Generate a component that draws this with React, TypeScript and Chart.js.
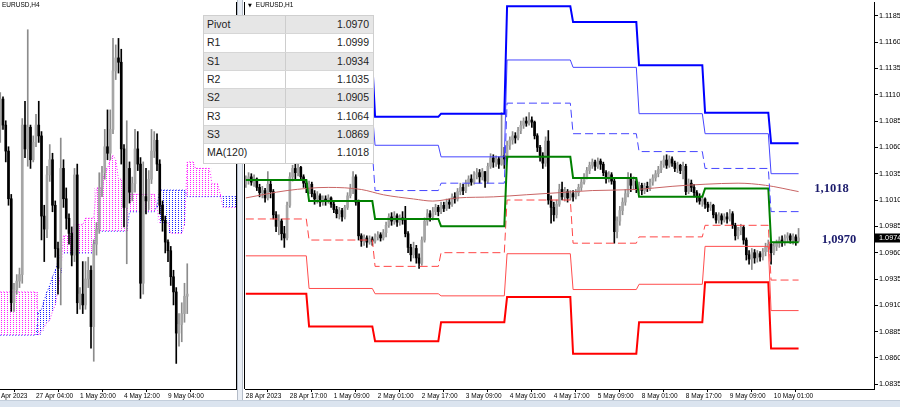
import React, { useEffect, useRef } from "react";
import { Chart, registerables } from "chart.js";
Chart.register(...registerables);

const SANS = '"Liberation Sans", Arial, sans-serif';
const SERIF = '"Liberation Serif", "Times New Roman", serif';

// ---------- H1 panel (right) ----------
const h1TickLabels = ["28 Apr 2023", "28 Apr 17:00", "1 May 09:00", "2 May 01:00", "2 May 17:00", "3 May 09:00", "4 May 01:00", "4 May 17:00", "5 May 09:00", "8 May 01:00", "8 May 17:00", "9 May 09:00", "10 May 01:00"];
const h1TickBars = [0, 16, 32, 48, 64, 80, 96, 112, 128, 144, 160, 176, 192];
const priceTicks = [1.0835, 1.086, 1.0885, 1.091, 1.0935, 1.096, 1.0985, 1.101, 1.1035, 1.106, 1.1085, 1.111, 1.1135, 1.116, 1.1185];

const h1FirstOpen = 1.1025;
const h1Close = [
  1.1028, 1.1032, 1.1027, 1.103, 1.1022, 1.1017, 1.1019, 1.1012, 1.1025, 1.1018,
  1.0996, 1.0985, 1.099, 1.0978, 1.0974, 1.1005, 1.1032, 1.104, 1.1036, 1.1041,
  1.1032, 1.1026, 1.1021, 1.1025, 1.1016, 1.1011, 1.1014, 1.1008, 1.1011, 1.1009,
  1.1012, 1.1006, 1.1001, 1.0997, 1.1, 1.0994, 1.1003, 1.1014, 1.1021, 1.1032,
  1.1008, 1.0976, 1.0971, 1.0974, 1.097, 1.0973, 1.0971, 1.0975, 1.0977, 1.0974,
  1.0979, 1.0986, 1.0994, 1.099, 1.0995, 1.0989, 1.0993, 1.0991, 1.0978, 1.0965,
  1.0958, 1.0964, 1.0955, 1.095, 1.0972, 1.099, 1.0997, 1.0994, 1.0999, 1.1003,
  1.0999, 1.1005, 1.1002, 1.1008, 1.1006, 1.1013, 1.1011, 1.1018, 1.1022, 1.1019,
  1.1026, 1.103, 1.1027, 1.1034, 1.1036, 1.1032, 1.1037, 1.1028, 1.1042, 1.105,
  1.1046, 1.1049, 1.1044, 1.1052, 1.1049, 1.1062, 1.1067, 1.1071, 1.1069, 1.1076,
  1.1081, 1.1085, 1.1083, 1.1086, 1.1084, 1.1071, 1.106, 1.1052, 1.1045, 1.1066,
  1.101, 1.1003, 1.0996, 1.1006, 1.102, 1.1013, 1.1018, 1.1012, 1.1016, 1.1013,
  1.1017, 1.1022, 1.1027, 1.1032, 1.1038, 1.1043, 1.1046, 1.1042, 1.1047, 1.1044,
  1.1036, 1.103, 1.1034, 1.1028, 1.098, 1.099, 1.1, 1.1008, 1.1016, 1.103,
  1.1024, 1.1028, 1.102, 1.1024, 1.1019, 1.1023, 1.1021, 1.1027, 1.1031, 1.1035,
  1.1039, 1.1044, 1.1048, 1.1043, 1.1049, 1.1045, 1.104, 1.1043, 1.1038, 1.1042,
  1.1018, 1.1026, 1.1022, 1.1017, 1.1013, 1.1009, 1.1011, 1.1006, 1.1003, 1.1005,
  1.0996, 1.0991, 1.0995, 1.0991, 1.0994, 1.0992, 1.0997, 1.0986, 1.0976, 1.0981,
  1.0984, 1.0972, 1.0958, 1.0954, 1.096, 1.0955, 1.0959, 1.0956, 1.0961, 1.0965,
  1.0968, 1.096, 1.0966, 1.0969, 1.0972, 1.097, 1.0974, 1.0976, 1.0972, 1.0975,
  1.0971, 1.0974,
];
const h1High = [
  1.1033, 1.1036, 1.1035, 1.1034, 1.1031, 1.1025, 1.1023, 1.1021, 1.1037, 1.1028,
  1.102, 1.0999, 1.0996, 1.0992, 1.0985, 1.1008, 1.1036, 1.1043, 1.1044, 1.1045,
  1.1042, 1.1034, 1.1029, 1.1028, 1.1027, 1.1019, 1.1018, 1.1016, 1.1014, 1.1014,
  1.1015, 1.1013, 1.1008, 1.1004, 1.1003, 1.1002, 1.1005, 1.1017, 1.1025, 1.1037,
  1.1034, 1.101, 1.0978, 1.0977, 1.0976, 1.0976, 1.0975, 1.0978, 1.098, 1.0979,
  1.0982, 1.0989, 1.0997, 1.0998, 1.0999, 1.0997, 1.0996, 1.0999, 1.1004, 1.098,
  1.0968, 1.097, 1.0967, 1.0959, 1.0975, 1.0993, 1.1001, 1.1, 1.1003, 1.1006,
  1.1005, 1.1008, 1.1008, 1.1011, 1.1011, 1.1016, 1.1017, 1.1021, 1.1026, 1.1025,
  1.1029, 1.1033, 1.1034, 1.1037, 1.104, 1.1039, 1.104, 1.1037, 1.1045, 1.1054,
  1.1053, 1.1052, 1.1051, 1.1093, 1.106, 1.1066, 1.107, 1.1075, 1.1074, 1.1079,
  1.1085, 1.1088, 1.1089, 1.1093, 1.1089, 1.1085, 1.1073, 1.1062, 1.1055, 1.107,
  1.1076, 1.1014, 1.1008, 1.101, 1.1025, 1.1027, 1.1022, 1.102, 1.1019, 1.1019,
  1.102, 1.1025, 1.103, 1.1035, 1.1041, 1.1046, 1.1049, 1.1048, 1.105, 1.1049,
  1.1046, 1.1038, 1.1037, 1.1036, 1.103, 1.0994, 1.1004, 1.1012, 1.102, 1.1036,
  1.1035, 1.1032, 1.103, 1.1027, 1.1026, 1.1026, 1.1027, 1.103, 1.1034, 1.1038,
  1.1042, 1.1047, 1.1052, 1.1053, 1.1052, 1.1051, 1.1047, 1.1046, 1.1044, 1.1046,
  1.1044, 1.103, 1.1029, 1.1025, 1.1019, 1.1016, 1.1014, 1.1012, 1.1008, 1.1008,
  1.1006, 1.0998, 1.0998, 1.0997, 1.0997, 1.0998, 1.1001, 1.0999, 1.0988, 1.0984,
  1.0987, 1.0986, 1.0974, 1.0962, 1.0964, 1.0963, 1.0962, 1.0961, 1.0964, 1.0969,
  1.0972, 1.097, 1.0969, 1.0972, 1.0975, 1.0976, 1.0977, 1.0979, 1.0978, 1.0978,
  1.0977, 1.0983,
];
const h1Low = [
  1.1022, 1.1025, 1.1024, 1.1023, 1.1019, 1.1013, 1.1012, 1.1008, 1.101, 1.1012,
  1.0992, 1.098, 1.0977, 1.0972, 1.0965, 1.0972, 1.1003, 1.1028, 1.103, 1.1033,
  1.1029, 1.1022, 1.1017, 1.1016, 1.1013, 1.1006, 1.1007, 1.1004, 1.1005, 1.1005,
  1.1007, 1.1003, 1.0998, 1.0993, 1.0992, 1.099, 1.0992, 1.1001, 1.1012, 1.1016,
  1.1005, 1.0972, 1.0966, 1.0967, 1.0965, 1.0968, 1.0967, 1.0969, 1.0972, 1.0971,
  1.0972, 1.0975, 1.0984, 1.0986, 1.0987, 1.0985, 1.0986, 1.0987, 1.0975, 1.096,
  1.0952, 1.0955, 1.095, 1.0945, 1.0948, 1.097, 1.0986, 1.099, 1.0991, 1.0996,
  1.0995, 1.0997, 1.0999, 1.1, 1.1002, 1.1004, 1.1007, 1.1009, 1.1015, 1.1015,
  1.1017, 1.1023, 1.1024, 1.1025, 1.103, 1.1026, 1.1029, 1.1022, 1.1026, 1.104,
  1.1041, 1.1042, 1.104, 1.1043, 1.104, 1.1047, 1.1058, 1.1063, 1.1064, 1.1067,
  1.1073, 1.1078, 1.108, 1.1081, 1.1079, 1.1068, 1.1056, 1.1047, 1.104, 1.1042,
  1.1006, 1.0988, 1.099, 1.0993, 1.1004, 1.101, 1.1009, 1.1008, 1.101, 1.1009,
  1.1011, 1.1014, 1.1019, 1.1025, 1.103, 1.1035, 1.104, 1.1038, 1.104, 1.1039,
  1.1033, 1.1026, 1.1027, 1.1025, 1.0969, 1.0974, 1.0986, 1.0996, 1.1005, 1.1013,
  1.1018, 1.102, 1.1017, 1.1016, 1.1015, 1.1016, 1.1018, 1.1019, 1.1024, 1.1028,
  1.1032, 1.1036, 1.1041, 1.104, 1.1041, 1.1042, 1.1037, 1.1036, 1.1035, 1.103,
  1.1015, 1.1016, 1.1018, 1.1013, 1.1008, 1.1006, 1.1004, 1.1002, 1.0999, 1.1,
  1.0993, 1.0988, 1.0988, 1.0987, 1.0989, 1.0988, 1.099, 1.0983, 1.0972, 1.0973,
  1.0977, 1.0968, 1.0953, 1.0949, 1.0944, 1.095, 1.0951, 1.0952, 1.0953, 1.0957,
  1.0961, 1.0949, 1.0958, 1.0962, 1.0965, 1.0966, 1.0967, 1.097, 1.0969, 1.0968,
  1.0967, 1.097,
];

// daily pivot levels (one value per trading day)
const dayStart = [0, 23, 47, 71, 95, 119, 143, 167, 191];
const dayEnd = [22, 46, 70, 94, 118, 142, 166, 190, 201];
const levelR3 = [1.1136, 1.114, 1.1089, 1.1092, 1.1194, 1.1179, 1.1138, 1.1093, 1.1064];
const levelR2 = [1.1101, 1.1093, 1.1062, 1.1051, 1.1143, 1.1136, 1.1092, 1.1073, 1.1035];
const levelR1 = [1.1064, 1.1056, 1.1019, 1.1026, 1.1102, 1.1073, 1.1056, 1.104, 1.0999];
const levelP = [1.1029, 1.1009, 1.0992, 1.0985, 1.1051, 1.1031, 1.1013, 1.1021, 1.097];
const levelS1 = [1.0992, 1.0972, 1.0947, 1.096, 1.101, 1.0969, 1.0975, 1.0986, 1.0934];
const levelS2 = [1.0957, 1.0926, 1.0921, 1.0919, 1.0959, 1.0925, 1.093, 1.0966, 1.0905];
const levelS3 = [1.0921, 1.089, 1.0876, 1.0894, 1.0918, 1.0864, 1.0894, 1.0932, 1.0869];

const maBars = [0, 15, 30, 42, 50, 61, 68, 77, 90, 102, 114, 126, 142, 155, 167, 179, 189, 201];
const maValues = [1.1012, 1.1019, 1.1022, 1.102, 1.1015, 1.1011, 1.1009, 1.1012, 1.1013, 1.1015, 1.1017, 1.1019, 1.102, 1.1023, 1.1025, 1.1026, 1.1024, 1.1018];

const tableNames = ["Pivot", "R1", "S1", "R2", "S2", "R3", "S3", "MA(120)"];
const tableValues = ["1.0970", "1.0999", "1.0934", "1.1035", "1.0905", "1.1064", "1.0869", "1.1018"];

// ---------- H4 panel (left) ----------
const h4TickLabels = ["24 Apr 2023", "27 Apr 04:00", "1 May 20:00", "4 May 12:00", "9 May 04:00"];
const h4TickBars = [-16, 0, 16, 32, 48];
const h4FirstBar = -13;
const h4FirstOpen = 1.1051;
const h4Close = [
  1.1065, 1.1053, 1.1041, 1.1019, 1.0971, 1.0977, 1.0981, 1.0984, 1.1053, 1.1042,
  1.1052, 1.1037, 1.1045, 1.1053, 1.1048, 1.1011, 1.1005, 1.103, 1.1037, 1.1016,
  1.0996, 1.0987, 1.1033, 1.1019, 1.101, 1.1003, 1.0993, 1.103, 1.0971, 1.0975,
  1.097, 1.0982, 1.0986, 1.096, 1.0998, 1.1005, 1.1024, 1.1031, 1.1043, 1.104,
  1.1051, 1.1078, 1.1084, 1.1082, 1.1042, 1.1015, 1.1033, 1.1022, 1.1026, 1.1042,
  1.1035, 1.098, 1.102, 1.1018, 1.1028, 1.1041, 1.1046, 1.1035, 1.1016, 1.1009,
  1.0999, 1.0995, 1.0983, 1.0976, 1.0957, 1.0961, 1.0966, 1.0974, 1.0975,
];
const h4High = [
  1.1068, 1.1066, 1.1055, 1.1043, 1.1021, 1.098, 1.0984, 1.0987, 1.1056, 1.1064,
  1.1097, 1.1053, 1.1048, 1.1058, 1.1064, 1.105, 1.1016, 1.1034, 1.1044, 1.104,
  1.1018, 1.0999, 1.1047, 1.1037, 1.1024, 1.1012, 1.1006, 1.1033, 1.1035, 1.0978,
  1.099, 1.099, 1.0992, 1.0988, 1.1, 1.1008, 1.1031, 1.1034, 1.1051, 1.106,
  1.106, 1.1093, 1.109, 1.1093, 1.1088, 1.1044, 1.1055, 1.1036, 1.1029, 1.1051,
  1.105, 1.1038, 1.1036, 1.1033, 1.1032, 1.1051, 1.105, 1.1049, 1.1037, 1.1018,
  1.1011, 1.1, 1.0997, 1.0986, 1.0978, 1.0966, 1.0971, 1.098, 1.0989,
];
const h4Low = [
  1.1045, 1.1051, 1.1036, 1.1016, 1.0967, 1.0967, 1.0975, 1.0978, 1.098, 1.1038,
  1.1034, 1.1033, 1.1036, 1.1043, 1.1045, 1.1, 1.099, 1.1001, 1.1027, 1.1013,
  1.0992, 1.0975, 1.097, 1.1015, 1.1005, 1.0998, 1.0988, 1.099, 1.0966, 1.0968,
  1.0966, 1.0968, 1.0978, 1.095, 1.0944, 1.0993, 1.1003, 1.102, 1.1028, 1.1037,
  1.1037, 1.1049, 1.1074, 1.1077, 1.1035, 1.1006, 1.0989, 1.1017, 1.1018, 1.1022,
  1.1032, 1.0973, 1.0975, 1.1012, 1.1014, 1.1026, 1.1038, 1.1032, 1.1012, 1.1004,
  1.0994, 1.099, 1.0979, 1.097, 1.0943, 1.0951, 1.0953, 1.0962, 1.0966,
];
// Ichimoku Senkou spans, one value per H4 bar from bar -13 (shifted 26 bars ahead)
const senkouA = [
  1.0976, 1.0976, 1.0976, 1.0976, 1.0976, 1.0976, 1.0976, 1.0976, 1.0976, 1.0976, 1.0976, 1.0976, 1.0976, 1.0976,
  1.0956, 1.0958, 1.096, 1.0962, 1.0963, 1.0967, 1.097, 1.0977, 1.0985,
  1.1002, 1.1002, 1.1002, 1.1002, 1.1007, 1.1007, 1.1007, 1.1007, 1.101, 1.101, 1.101, 1.101,
  1.1024, 1.1024, 1.1024, 1.103, 1.1033, 1.1037, 1.1039, 1.1037, 1.1028, 1.1028, 1.1028, 1.1028,
  1.1021, 1.1021, 1.1021, 1.1021, 1.1021, 1.1021, 1.1021, 1.1021, 1.1021, 1.1021,
  1.1015, 1.1008, 1.1008, 1.1008, 1.1008, 1.1003, 1.1003, 1.1003, 1.1003, 1.1003, 1.1007,
  1.1036, 1.1036, 1.1036, 1.1033, 1.1033, 1.1033, 1.1033, 1.1033, 1.1033, 1.1026, 1.1026, 1.1026, 1.1021,
  1.1015, 1.1015, 1.1015, 1.1015, 1.1015, 1.1015,
];
const senkouB = [
  1.0956, 1.0956, 1.0956, 1.0956, 1.0956, 1.0956, 1.0956, 1.0956, 1.0956, 1.0956, 1.0956, 1.0956, 1.0956, 1.0956,
  1.0967, 1.0968, 1.0972, 1.0976, 1.0979, 1.0983, 1.0986, 1.099, 1.0994,
  1.0994, 1.0994, 1.0994, 1.0994, 1.0994, 1.0994, 1.0994, 1.0994, 1.0994, 1.0994, 1.0994, 1.0994,
  1.1004, 1.1004, 1.1004, 1.1004, 1.1004, 1.1004, 1.1004, 1.1004, 1.1004, 1.1004, 1.1004, 1.1004,
  1.1013, 1.1013, 1.1013, 1.1013, 1.1013, 1.1013, 1.1013, 1.1013, 1.1013, 1.1013,
  1.1016, 1.1023, 1.1023, 1.1023, 1.1023, 1.1023, 1.1023, 1.1023, 1.1023, 1.1023, 1.1023,
  1.102, 1.102, 1.102, 1.102, 1.102, 1.102, 1.102, 1.102, 1.102, 1.102, 1.102, 1.102, 1.102,
  1.102, 1.102, 1.102, 1.102, 1.102, 1.102,
];

const BULL_BODY = "#a6a6a6";
const BULL_WICK = "#8c8c8c";
const BEAR = "#000000";

function candleSets(startBar: number, firstOpen: number, closes: number[], highs: number[], lows: number[]) {
  const wick: any[] = [], body: any[] = [], wc: string[] = [], bc: string[] = [];
  let open = firstOpen;
  closes.forEach((c, k) => {
    const x = startBar + k;
    const up = c >= open;
    wick.push({ x, y: [lows[k], highs[k]] });
    body.push({ x, y: [open, c] });
    wc.push(up ? BULL_WICK : BEAR);
    bc.push(up ? BULL_BODY : BEAR);
    open = c;
  });
  return [
    { type: "bar", data: wick, backgroundColor: wc, barThickness: 1, grouped: false, order: 3 },
    { type: "bar", data: body, backgroundColor: bc, barThickness: 2, minBarLength: 1, grouped: false, order: 2 },
  ];
}

function stepLine(levels: number[]) {
  const pts: any[] = [];
  levels.forEach((v, d) => {
    pts.push({ x: dayStart[d], y: v });
    pts.push({ x: dayEnd[d], y: v });
  });
  return pts;
}

function lineSet(data: any[], color: string, width: number, dash: number[] = [], order = 1, extra: any = {}) {
  return { type: "line", data, borderColor: color, borderWidth: width, borderDash: dash, pointRadius: 0, fill: false, tension: 0, order, ...extra };
}

function xScale(min: number, max: number, bars: number[], labels: string[]) {
  return {
    type: "linear", min, max, offset: false,
    grid: { display: true, drawOnChartArea: false, drawTicks: true, tickLength: 3, color: "#000" },
    border: { display: true, color: "#000" },
    ticks: {
      autoSkip: false, maxRotation: 0, minRotation: 0, align: "start", padding: 0, color: "#000",
      font: { family: SANS, size: 6.5 },
      callback: (_v: any, i: number) => labels[i],
    },
    afterBuildTicks: (s: any) => { s.ticks = bars.map((v) => ({ value: v })); },
    afterFit: (s: any) => { s.height = 11; s.paddingLeft = 0; s.paddingRight = 0; },
  };
}

function dotPattern(color: string) {
  const c = document.createElement("canvas");
  c.width = 3; c.height = 2;
  const g = c.getContext("2d")!;
  g.fillStyle = color;
  g.fillRect(0, 0, 1, 1);
  return g.createPattern(c, "repeat");
}

function buildRight() {
  const last = h1Close[h1Close.length - 1];
  return {
    type: "bar",
    data: {
      datasets: [
        lineSet(stepLine(levelR3), "#0000ff", 2),
        lineSet(stepLine(levelR2), "#4646ff", 1),
        lineSet(stepLine(levelR1), "#4646ff", 1, [8, 4]),
        lineSet(stepLine(levelP), "#008000", 2),
        lineSet(stepLine(levelS1), "#ff4646", 1, [8, 4]),
        lineSet(stepLine(levelS2), "#ff4d4d", 1),
        lineSet(stepLine(levelS3), "#ff0000", 2),
        lineSet(maBars.map((b, k) => ({ x: b, y: maValues[k] })), "#c86464", 1, [], 1, { cubicInterpolationMode: "monotone" }),
        ...candleSets(0, h1FirstOpen, h1Close, h1High, h1Low),
      ],
    },
    options: {
      animation: false, responsive: false, maintainAspectRatio: false, events: [],
      layout: { padding: { left: 2, top: 2, right: 0, bottom: 0 } },
      plugins: { legend: { display: false }, tooltip: { enabled: false } },
      scales: {
        x: xScale(-0.3, 228.43, h1TickBars, h1TickLabels),
        y: {
          type: "linear", position: "right", min: 1.083054, max: 1.119806,
          grid: { display: true, drawOnChartArea: false, drawTicks: true, tickLength: 4, color: "#000" },
          border: { display: true, color: "#000" },
          ticks: { autoSkip: false, padding: 1, color: "#000", font: { family: SANS, size: 7.3 }, callback: (v: any) => Number(v).toFixed(4) },
          afterBuildTicks: (s: any) => { s.ticks = priceTicks.map((v) => ({ value: v })); },
          afterFit: (s: any) => { s.width = 26; s.paddingTop = 0; s.paddingBottom = 0; },
        },
      },
    },
    plugins: [
      {
        id: "rightDecor",
        afterDraw(chart: any) {
          const { ctx, chartArea: a } = chart;
          const ys = chart.scales.y;
          ctx.save();
          ctx.strokeStyle = "#000"; ctx.lineWidth = 1;
          ctx.beginPath(); ctx.moveTo(a.left - 0.5, a.top); ctx.lineTo(a.left - 0.5, a.bottom); ctx.stroke();
          const py = ys.getPixelForValue(last);
          ctx.fillStyle = "#000";
          ctx.fillRect(a.right + 1, Math.round(py) - 4.5, chart.width - a.right - 1, 9);
          ctx.fillStyle = "#fff"; ctx.font = `7.3px ${SANS}`; ctx.textBaseline = "middle"; ctx.textAlign = "left";
          ctx.fillText(last.toFixed(4), a.right + 5, py);
          ctx.fillStyle = "#1c1c6c"; ctx.font = `bold 12.5px ${SERIF}`; ctx.textAlign = "center";
          const ma = maValues[maValues.length - 1];
          const pv = levelP[levelP.length - 1];
          ctx.fillText(ma.toFixed(4).replace(".", ","), 588.5, ys.getPixelForValue(ma) - 2.5);
          ctx.fillText(pv.toFixed(4).replace(".", ","), 596, ys.getPixelForValue(pv) - 2.5);
          ctx.restore();
        },
      },
    ],
  };
}

function buildLeft() {
  const mag = dotPattern("#ff20ff");
  const blu = dotPattern("#2020ff");
  const cloud: any[] = [], cloudCol: any[] = [];
  senkouA.forEach((a, k) => {
    const b = senkouB[k];
    cloud.push({ x: h4FirstBar + k, y: [Math.min(a, b), Math.max(a, b)] });
    cloudCol.push(a >= b ? mag : blu);
  });
  return {
    type: "bar",
    data: {
      datasets: [
        { type: "bar", data: cloud, backgroundColor: cloudCol, barThickness: 3, grouped: false, order: 6 },
        lineSet(senkouA.map((v, k) => ({ x: h4FirstBar + k, y: v })), "#ff20ff", 1, [1, 2], 5),
        lineSet(senkouB.map((v, k) => ({ x: h4FirstBar + k, y: v })), "#2020ff", 1, [1, 2], 5),
        ...candleSets(h4FirstBar, h4FirstOpen, h4Close, h4High, h4Low),
      ],
    },
    options: {
      animation: false, responsive: false, maintainAspectRatio: false, events: [],
      layout: { padding: { left: 0, top: 2, right: 1, bottom: 0 } },
      plugins: { legend: { display: false }, tooltip: { enabled: false } },
      scales: {
        x: xScale(-20.364, 72.727, h4TickBars, h4TickLabels),
        y: { type: "linear", display: false, min: 1.09312, max: 1.11098 },
      },
    },
    plugins: [
      {
        id: "leftFrame",
        afterDraw(chart: any) {
          const { ctx, chartArea: a } = chart;
          ctx.save();
          ctx.strokeStyle = "#000"; ctx.lineWidth = 1;
          ctx.beginPath(); ctx.moveTo(a.right + 0.5, a.top); ctx.lineTo(a.right + 0.5, a.bottom + 1); ctx.stroke();
          ctx.restore();
        },
      },
    ],
  };
}

export default function App() {
  const leftRef = useRef<HTMLCanvasElement>(null);
  const rightRef = useRef<HTMLCanvasElement>(null);
  useEffect(() => {
    const l = new Chart(leftRef.current as any, buildLeft() as any);
    const r = new Chart(rightRef.current as any, buildRight() as any);
    return () => { l.destroy(); r.destroy(); };
  }, []);

  const rowH = 18.33;
  return (
    <div style={{ position: "fixed", left: 0, top: 0, width: 900, height: 407, background: "#fff", overflow: "hidden", fontFamily: SANS }}>
      <div style={{ position: "absolute", left: 0, top: 0, width: 237, height: 400, overflow: "hidden" }}>
        <canvas ref={leftRef} width={257} height={400} style={{ position: "absolute", left: -20, top: 0, width: 257, height: 400 }} />
        <div style={{ position: "absolute", left: 2, top: 0, fontSize: 6.5, lineHeight: "10px", color: "#000" }}>EURUSD,H4</div>
      </div>
      <div style={{ position: "absolute", left: 237, top: 0, width: 6, height: 400, background: "#e9eef5", boxSizing: "border-box", borderLeft: "1px solid #b4bcc8", borderRight: "1px solid #b4bcc8" }} />
      <div style={{ position: "absolute", left: 243, top: 0, width: 657, height: 400 }}>
        <canvas ref={rightRef} width={657} height={400} style={{ display: "block", width: 657, height: 400 }} />
        <div style={{ position: "absolute", left: 5, top: 0, fontSize: 6.5, lineHeight: "9px", color: "#000", whiteSpace: "nowrap" }}>
          <span style={{ fontFamily: '"DejaVu Sans", sans-serif', fontSize: 5, marginRight: 4 }}>▼</span>EURUSD,H1
        </div>
      </div>
      <div style={{ position: "absolute", left: 0, top: 400, width: 900, height: 7, background: "#dbe4ef", borderTop: "1px solid #c3cedb", boxSizing: "border-box" }} />
      <div style={{ position: "absolute", left: 203, top: 15, width: 171, boxSizing: "border-box", border: "1px solid #cfcfcf", background: "#fff", fontSize: 10.5, color: "#1e1e1e" }}>
        {tableNames.map((n, k) => (
          <div key={n} style={{ display: "flex", height: rowH, boxSizing: "border-box", borderBottom: k < tableNames.length - 1 ? "1px solid #d6d6d6" : "none", background: k % 2 === 0 ? "#e6e6e6" : "#ffffff" }}>
            <div style={{ width: 82, boxSizing: "border-box", borderRight: "1px solid #cdcdcd", paddingLeft: 3, lineHeight: `${rowH - 1}px` }}>{n}</div>
            <div style={{ flex: 1, textAlign: "right", paddingRight: 4, lineHeight: `${rowH - 1}px` }}>{tableValues[k]}</div>
          </div>
        ))}
      </div>
    </div>
  );
}
